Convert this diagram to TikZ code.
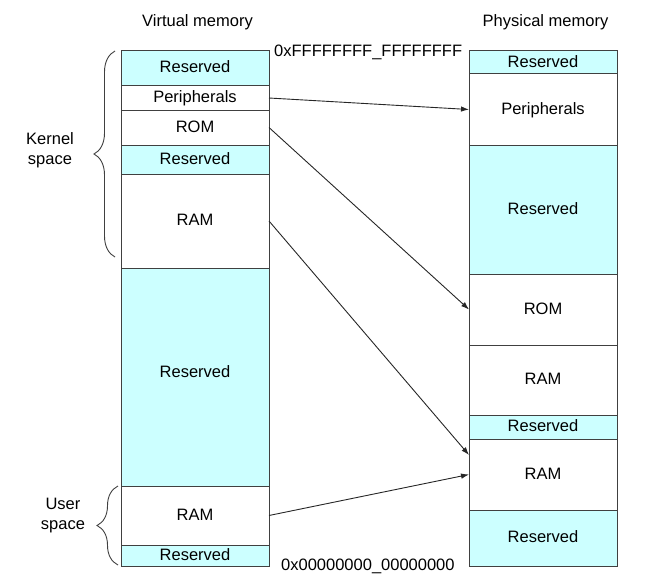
\documentclass[tikz,border=0pt]{standalone}
\usepackage{fontspec}
\setmainfont{Liberation Sans}
\usepackage{tikz}
\usetikzlibrary{arrows.meta,positioning,decorations.pathreplacing}
\definecolor{resfill}{RGB}{204,255,255}
\newcommand{\memfont}{\fontsize{16.5}{20}\selectfont}

\begin{document}
\begin{tikzpicture}[x=1pt, y=-1pt,
        seg/.style={rectangle, draw=black!75, line width=1pt, fill=white, minimum width=148pt, inner sep=0pt, outer sep=0pt, anchor=north west, font=\memfont, text height=12pt, text depth=3pt},
        res/.style={seg, fill=resfill},
        lbl/.style={font=\memfont, inner sep=0pt, align=center},
        arrow/.style={-{Latex[length=8pt,width=5.5pt]}, line width=0.9pt, black!85},
        brc/.style={decorate, decoration={brace, amplitude=21pt}, line width=0.9pt, black!75}
    ]
        \useasboundingbox (0,0) rectangle (659,586);

        % Titles
        \node[lbl, anchor=base] (vtitle) at (197.5,27) {Virtual memory};
        \node[lbl, anchor=base] (ptitle) at (545.5,27) {Physical memory};

        % Addresses
        \node[lbl, anchor=base west] (top) at (274,57) {0xFFFFFFFF\_FFFFFFFF};
        \node[lbl, anchor=base west] (bottom) at (281,570.5) {0x00000000\_00000000};

        % Virtual memory map
        \node[res, minimum height=35pt] (v-res1) at (121,51) {Reserved};
        \node[seg, minimum height=24pt] (v-peri) at (121,86) {Peripherals};
        \node[seg, minimum height=35pt] (v-rom) at (121,110) {ROM};
        \node[res, minimum height=29pt] (v-res2) at (121,145) {Reserved};
        \node[seg, minimum height=94pt] (v-ram) at (121,174) {RAM};
        \node[res, minimum height=218pt, text depth=12pt] (v-res3) at (121,268) {Reserved};
        \node[seg, minimum height=59pt] (v-user) at (121,486) {RAM};
        \node[res, minimum height=21pt] (v-res4) at (121,545) {Reserved};

        % Physical memory map
        \node[res, minimum height=23pt] (p-res1) at (469,51) {Reserved};
        \node[seg, minimum height=71pt] (p-peri) at (469,74) {Peripherals};
        \node[res, minimum height=129pt] (p-res2) at (469,145) {Reserved};
        \node[seg, minimum height=71pt] (p-rom) at (469,274) {ROM};
        \node[seg, minimum height=70pt] (p-ram1) at (469,345) {RAM};
        \node[res, minimum height=24pt] (p-res3) at (469,415) {Reserved};
        \node[seg, minimum height=71pt] (p-ram2) at (469,439) {RAM};
        \node[res, minimum height=56pt] (p-res4) at (469,510) {Reserved};

        % Kernel / user space
        \draw[brc] (115,257) -- (115,51);
        \node[lbl] (kernel) at (50,150) {Kernel\\space};
        \draw[brc] (118,565) -- (118,486);
        \node[lbl] (user) at (63,516) {User\\space};

        % Mappings
        \draw[arrow] (v-peri.east) -- (p-peri.west);
        \draw[arrow] (v-rom.east) -- (p-rom.west);
        \draw[arrow] (v-ram.east) -- ([yshift=-16pt]p-ram2.north west);
        \draw[arrow] (v-user.east) -- (p-ram2.west);

    \end{tikzpicture}
\end{document}
